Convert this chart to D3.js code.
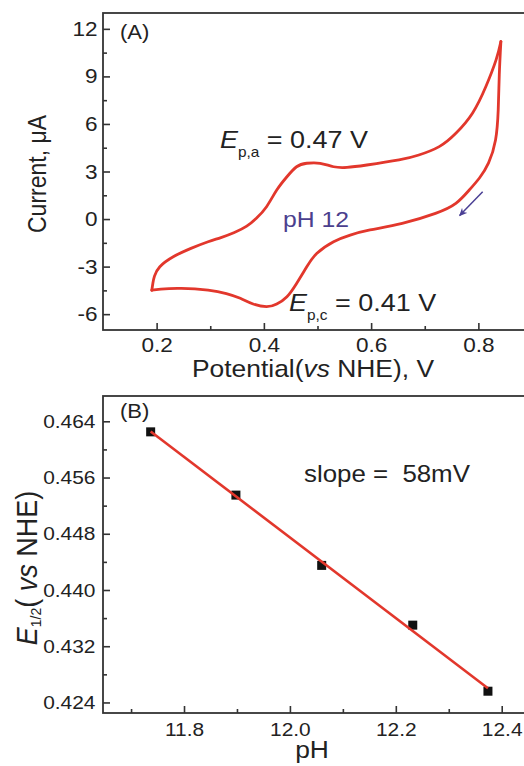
<!DOCTYPE html>
<html>
<head>
<meta charset="utf-8">
<script src="https://cdn.jsdelivr.net/npm/d3@7"></script>
<style>
  html, body { margin: 0; padding: 0; background: #fff; }
  svg { display: block; }
  text { font-family: "Liberation Sans", Arial, sans-serif; fill: #222; }
</style>
</head>
<body>
<script>
// ---- (A) cyclic voltammogram, pH 12 ----
// anodic sweep (left vertex -> right vertex)
const cvForwardV = [0.191, 0.193, 0.196, 0.206, 0.231, 0.264, 0.296, 0.320, 0.345, 0.368, 0.386, 0.405, 0.424, 0.443, 0.461, 0.480, 0.505, 0.530, 0.555, 0.592, 0.652, 0.689, 0.727, 0.758, 0.789, 0.814, 0.833, 0.842];
const cvForwardI = [-4.49, -4.05, -3.60, -3.01, -2.38, -1.85, -1.43, -1.17, -0.85, -0.45, 0.05, 0.78, 1.83, 2.67, 3.30, 3.52, 3.52, 3.30, 3.26, 3.41, 3.73, 4.04, 4.57, 5.41, 6.68, 8.36, 10.04, 11.20];
// cathodic sweep (right vertex -> left vertex)
const cvReverseV = [0.842, 0.839, 0.837, 0.832, 0.819, 0.802, 0.783, 0.758, 0.720, 0.658, 0.598, 0.561, 0.530, 0.499, 0.480, 0.461, 0.443, 0.424, 0.405, 0.380, 0.356, 0.330, 0.296, 0.246, 0.208, 0.191];
const cvReverseI = [11.20, 9.10, 6.89, 4.99, 3.54, 2.59, 1.83, 0.99, 0.36, -0.27, -0.69, -1.01, -1.43, -2.16, -3.01, -4.06, -4.90, -5.36, -5.53, -5.36, -5.00, -4.70, -4.49, -4.38, -4.42, -4.49];
// scan-direction arrow [potential, current]
const scanArrowFrom = [0.808, 1.72];
const scanArrowTo = [0.765, 0.22];

const potentialMajorTicks = [0.2, 0.4, 0.6, 0.8];
const potentialMinorTicks = [0.3, 0.5, 0.7];
const currentMajorTicks = [-6, -3, 0, 3, 6, 9, 12];
const currentMinorTicks = [-4.5, -1.5, 1.5, 4.5, 7.5, 10.5];

// ---- (B) half-wave potential vs pH ----
const pHValues = [11.737, 11.898, 12.060, 12.232, 12.374];
const halfWaveE = [0.4625, 0.4535, 0.4435, 0.4350, 0.4256];

const pHMajorTicks = [11.8, 12.0, 12.2, 12.4];
const pHMinorTicks = [11.7, 11.9, 12.1, 12.3];
const eMajorTicks = [0.424, 0.432, 0.440, 0.448, 0.456, 0.464];
const eMinorTicks = [0.428, 0.436, 0.444, 0.452, 0.460];

// horizontal text stretch used throughout the figure
const SX = 1.1;
const AXIS = "#333";
const RED = "#e2372c";

const W = 524, H = 766;
const svg = d3.select("body").append("svg")
  .attr("width", W).attr("height", H)
  .attr("viewBox", `0 0 ${W} ${H}`);
svg.append("rect").attr("width", W).attr("height", H).attr("fill", "#fff");

// place a text element with the horizontal stretch
function placeText(g, x, y, opts = {}) {
  const t = g.append("text")
    .attr("transform", `translate(${x},${y}) scale(${SX},1)` + (opts.rotate ? ` rotate(${opts.rotate})` : ""))
    .attr("font-size", opts.size || 20)
    .attr("text-anchor", opts.anchor || "start");
  if (opts.fill) t.style("fill", opts.fill);
  return t;
}

function styleAxis(g, fontSize) {
  g.select(".domain").remove();
  g.selectAll(".tick line").attr("stroke", AXIS).attr("stroke-width", 1.6);
  g.selectAll(".tick text")
    .attr("font-size", fontSize)
    .attr("font-family", "Liberation Sans, Arial, sans-serif")
    .style("fill", "#222");
}

function stretchTickText(g) {
  g.selectAll(".tick text").each(function () {
    const t = d3.select(this);
    const x = +t.attr("x") || 0;
    const y = +t.attr("y") || 0;
    t.attr("x", null).attr("y", null)
      .attr("transform", `translate(${x},${y}) scale(${SX},1)`);
  });
}

// ================= Panel A =================
const xA = d3.scaleLinear().domain([0.1, 0.9]).range([103, 532]);
const yA = d3.scaleLinear().domain([-7, 13]).range([330, 13]);
const gA = svg.append("g");

// axes with inward ticks
const axA_xMaj = gA.append("g").attr("transform", `translate(0,${yA(-7)})`)
  .call(d3.axisBottom(xA).tickValues(potentialMajorTicks).tickSizeInner(-7).tickSizeOuter(0)
    .tickPadding(7).tickFormat(d3.format(".1f")));
styleAxis(axA_xMaj, 20.5); stretchTickText(axA_xMaj);
const axA_xMin = gA.append("g").attr("transform", `translate(0,${yA(-7)})`)
  .call(d3.axisBottom(xA).tickValues(potentialMinorTicks).tickSizeInner(-4).tickSizeOuter(0).tickFormat(""));
styleAxis(axA_xMin, 1);
const axA_yMaj = gA.append("g").attr("transform", `translate(${xA(0.1)},0)`)
  .call(d3.axisLeft(yA).tickValues(currentMajorTicks).tickSizeInner(-7).tickSizeOuter(0)
    .tickPadding(5.5).tickFormat(d => String(d)));
styleAxis(axA_yMaj, 20.5); stretchTickText(axA_yMaj);
const axA_yMin = gA.append("g").attr("transform", `translate(${xA(0.1)},0)`)
  .call(d3.axisLeft(yA).tickValues(currentMinorTicks).tickSizeInner(-4).tickSizeOuter(0).tickFormat(""));
styleAxis(axA_yMin, 1);

gA.append("rect")
  .attr("x", xA(0.1)).attr("y", yA(13))
  .attr("width", xA(0.9) - xA(0.1)).attr("height", yA(-7) - yA(13))
  .attr("fill", "none").attr("stroke", AXIS).attr("stroke-width", 1.8);

// voltammogram branches
const cvLine = d3.line().x(d => xA(d[0])).y(d => yA(d[1])).curve(d3.curveNatural);
const forward = cvForwardV.map((v, i) => [v, cvForwardI[i]]);
const reverse = cvReverseV.map((v, i) => [v, cvReverseI[i]]);
[forward, reverse].forEach(branch => {
  gA.append("path").datum(branch)
    .attr("d", cvLine)
    .attr("fill", "none").attr("stroke", RED).attr("stroke-width", 2.8)
    .attr("stroke-linejoin", "round").attr("stroke-linecap", "round");
});

// scan direction arrow
const defs = svg.append("defs");
defs.append("marker").attr("id", "arrowHead")
  .attr("viewBox", "0 0 10 10").attr("refX", 9).attr("refY", 5)
  .attr("markerWidth", 8).attr("markerHeight", 8).attr("markerUnits", "userSpaceOnUse")
  .attr("orient", "auto")
  .append("path").attr("d", "M0,0.5 L10,5 L0,9.5 L3,5 Z").attr("fill", "#4a3f94");
gA.append("line")
  .attr("x1", xA(scanArrowFrom[0])).attr("y1", yA(scanArrowFrom[1]))
  .attr("x2", xA(scanArrowTo[0])).attr("y2", yA(scanArrowTo[1]))
  .attr("stroke", "#4a3f94").attr("stroke-width", 1.5)
  .attr("marker-end", "url(#arrowHead)");

// annotations
placeText(gA, 120, 39, { size: 20 }).text("(A)");

const epa = placeText(gA, 220, 148, { size: 24.5 });
epa.append("tspan").attr("font-style", "italic").text("E");
epa.append("tspan").attr("font-size", 14).attr("dy", 9).text("p,a");
epa.append("tspan").attr("dy", -9).text(" = 0.47 V");

const epc = placeText(gA, 289, 311, { size: 24.5 });
epc.append("tspan").attr("font-style", "italic").text("E");
epc.append("tspan").attr("font-size", 14).attr("dy", 9).text("p,c");
epc.append("tspan").attr("dy", -9).text(" = 0.41 V");

placeText(gA, 283, 227, { size: 22.5, fill: "#4b3f8e" }).text("pH 12");

// axis titles
const xTitleA = placeText(gA, 313, 377, { size: 24, anchor: "middle" });
xTitleA.append("tspan").text("Potential(");
xTitleA.append("tspan").attr("font-style", "italic").text("vs");
xTitleA.append("tspan").text(" NHE), V");

placeText(gA, 46, 174, { size: 23, anchor: "middle", rotate: -90 }).text("Current, \u03BCA");

// ================= Panel B =================
const xB = d3.scaleLinear().domain([11.647, 12.447]).range([103, 526.6]);
const yB = d3.scaleLinear().domain([0.4225, 0.4676]).range([713, 396]);
const gB = svg.append("g");

const axB_xMaj = gB.append("g").attr("transform", `translate(0,${yB(0.4225)})`)
  .call(d3.axisBottom(xB).tickValues(pHMajorTicks).tickSizeInner(-7).tickSizeOuter(0)
    .tickPadding(10).tickFormat(d3.format(".1f")));
styleAxis(axB_xMaj, 19); stretchTickText(axB_xMaj);
const axB_xMin = gB.append("g").attr("transform", `translate(0,${yB(0.4225)})`)
  .call(d3.axisBottom(xB).tickValues(pHMinorTicks).tickSizeInner(-4).tickSizeOuter(0).tickFormat(""));
styleAxis(axB_xMin, 1);
const axB_yMaj = gB.append("g").attr("transform", `translate(${xB(11.647)},0)`)
  .call(d3.axisLeft(yB).tickValues(eMajorTicks).tickSizeInner(-7).tickSizeOuter(0)
    .tickPadding(7.5).tickFormat(d3.format(".3f")));
styleAxis(axB_yMaj, 19); stretchTickText(axB_yMaj);
const axB_yMin = gB.append("g").attr("transform", `translate(${xB(11.647)},0)`)
  .call(d3.axisLeft(yB).tickValues(eMinorTicks).tickSizeInner(-4).tickSizeOuter(0).tickFormat(""));
styleAxis(axB_yMin, 1);

gB.append("rect")
  .attr("x", xB(11.647)).attr("y", yB(0.4676))
  .attr("width", xB(12.447) - xB(11.647)).attr("height", yB(0.4225) - yB(0.4676))
  .attr("fill", "none").attr("stroke", AXIS).attr("stroke-width", 1.8);

// measured points
const pts = pHValues.map((p, i) => [p, halfWaveE[i]]);
const sq = 9;
gB.selectAll("rect.pt").data(pts).enter().append("rect")
  .attr("class", "pt")
  .attr("x", d => xB(d[0]) - sq / 2).attr("y", d => yB(d[1]) - sq / 2)
  .attr("width", sq).attr("height", sq)
  .attr("fill", "#111");

// least-squares line through the points
const mx = d3.mean(pHValues), my = d3.mean(halfWaveE);
const sxy = d3.sum(pHValues, (p, i) => (p - mx) * (halfWaveE[i] - my));
const sxx = d3.sum(pHValues, p => (p - mx) * (p - mx));
const slope = sxy / sxx, icept = my - slope * mx;
const xExt = d3.extent(pHValues);
gB.append("line")
  .attr("x1", xB(xExt[0])).attr("y1", yB(icept + slope * xExt[0]))
  .attr("x2", xB(xExt[1])).attr("y2", yB(icept + slope * xExt[1]))
  .attr("stroke", RED).attr("stroke-width", 2.6);

placeText(gB, 120, 418, { size: 20 }).text("(B)");
placeText(gB, 304, 482, { size: 23.5 }).text("slope =  58mV").style("white-space", "pre");

placeText(gB, 312, 758, { size: 24, anchor: "middle" }).text("pH");

const yTitleB = placeText(gB, 37, 568, { size: 27, anchor: "middle", rotate: -90 });
yTitleB.append("tspan").attr("font-style", "italic").text("E");
yTitleB.append("tspan").attr("font-size", 14).attr("dy", 4).text("1/2");
yTitleB.append("tspan").attr("dy", -4).text("( ");
yTitleB.append("tspan").attr("font-style", "italic").text("vs");
yTitleB.append("tspan").text(" NHE)");
</script>
</body>
</html>
